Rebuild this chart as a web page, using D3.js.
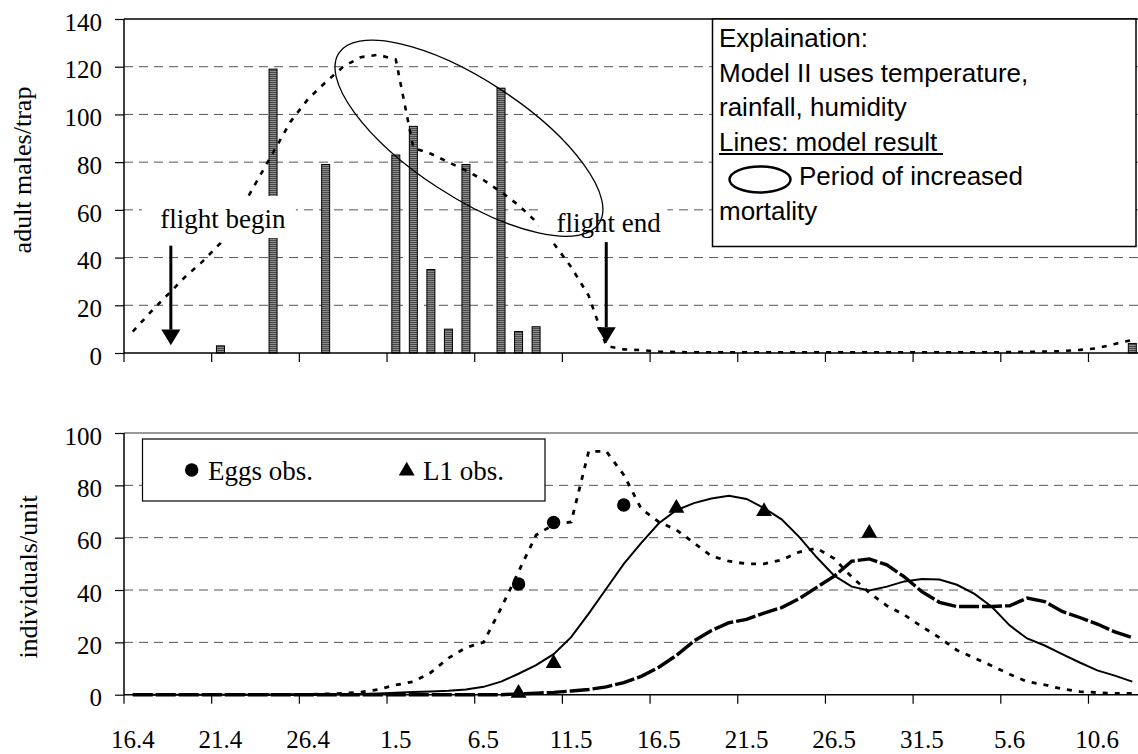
<!DOCTYPE html>
<html>
<head>
<meta charset="utf-8">
<script src="https://cdn.jsdelivr.net/npm/d3@7/dist/d3.min.js"></script>
<style>
  body { margin: 0; background: #fff; }
  svg { display: block; }
</style>
</head>
<body>
<div id="chart"></div>
<script>
const SERIF = '"Liberation Serif", "Times New Roman", serif';
const SANS = '"Liberation Sans", Arial, sans-serif';

// daily categories on the x axis (day.month)
const days = ["16.4","17.4","18.4","19.4","20.4","21.4","22.4","23.4","24.4","25.4",
  "26.4","27.4","28.4","29.4","30.4","1.5","2.5","3.5","4.5","5.5",
  "6.5","7.5","8.5","9.5","10.5","11.5","12.5","13.5","14.5","15.5",
  "16.5","17.5","18.5","19.5","20.5","21.5","22.5","23.5","24.5","25.5",
  "26.5","27.5","28.5","29.5","30.5","31.5","1.6","2.6","3.6","4.6",
  "5.6","6.6","7.6","8.6","9.6","10.6","11.6","12.6"];
const tickLabels = ["16.4","21.4","26.4","1.5","6.5","11.5","16.5","21.5","26.5","31.5","5.6","10.6"];

// top panel: trap catches (bars) and model II (dashed line)
const trapDays   = ["21.4","24.4","27.4","1.5","2.5","3.5","4.5","5.5","7.5","8.5","9.5","12.6"];
const trapCounts = [3, 119, 79, 83, 95, 35, 10, 79, 111, 9, 11, 4];
const adultModel = [9,17,24.5,32,38.5,46,58,71,84,97,
  106.5,113.5,120,124,125,123,86,83.5,80,76.5,
  72.5,67.5,62,55,46,36,24,3,1.5,1.2,
  0.6,0.4,0.3,0.3,0.3,0.3,0.3,0.3,0.3,0.3,
  0.3,0.3,0.3,0.3,0.3,0.3,0.3,0.3,0.3,0.3,
  0.4,0.5,0.6,0.8,1.3,2,3.8,5.5];

// bottom panel: model curves and observations
const eggsModel = [0,0,0,0,0,0,0,0,0,0,
  0,0.3,0.5,1,2,3.7,5,8.5,14,18,
  20,33,47,61,65,66,93,93,84,71,
  66,63,58,53,51,50,50,51.5,54.5,56,
  52,45,39,34,30.5,26,21.8,17,14,11,
  7.8,5,3.8,2.2,1.2,0.8,0.5,0.5];
const l1Model = [0,0,0,0,0,0,0,0,0,0,
  0,0.1,0.2,0.3,0.5,0.7,1,1.2,1.5,2,
  3,5,8,11.3,15.5,22,31,40.5,50,58,
  65.5,70.5,73.2,75,76,74.8,71.3,67,60.3,52.5,
  45.5,41.3,39.8,41.3,43.3,44.2,44,42,38.5,33.5,
  26.5,21.5,18.8,15.5,12.3,9.3,7.3,5];
const l2Model = [0,0,0,0,0,0,0,0,0,0,
  0,0,0,0,0,0,0,0,0,0,
  0,0,0.3,0.6,0.9,1.4,2,3,4.6,7,
  10.5,15,20.5,24.5,27.5,28.8,31.2,33.3,36.7,41,
  45.3,51,51.9,49.6,45,39.4,35.3,33.7,33.7,33.7,
  34,36.9,35.6,31.8,29.5,27,24,21.8];
const eggsObsDays = ["8.5","10.5","14.5"];
const eggsObs     = [42.3, 65.8, 72.5];
const l1ObsDays   = ["8.5","10.5","17.5","22.5","28.5"];
const l1Obs       = [0.6, 12, 71.3, 70, 61.7];

const topTicks = [0,20,40,60,80,100,120,140];
const botTicks = [0,20,40,60,80,100];

const W = 1138, H = 754;
const svg = d3.select("#chart").append("svg")
  .attr("width", W).attr("height", H);

const defs = svg.append("defs");
const pat = defs.append("pattern")
  .attr("id","hatch").attr("patternUnits","userSpaceOnUse")
  .attr("width",4).attr("height",2);
pat.append("rect").attr("width",4).attr("height",2).attr("fill","#8c8c8c");
pat.append("rect").attr("width",4).attr("height",1).attr("fill","#4a4a4a");

const x = d3.scaleBand().domain(days).range([124, 124 + 58*17.536]).padding(0);
const bw = x.bandwidth();
const xc = d => x(d) + bw/2;

const yTop = d3.scaleLinear().domain([0,140]).range([353,19]);
const yBot = d3.scaleLinear().domain([0,100]).range([694.7,433]);

function yAxis(scale, ticks) {
  return d3.axisLeft(scale).tickValues(ticks).tickSize(9).tickPadding(13);
}
function styleAxis(g) {
  g.select(".domain").remove();
  g.selectAll(".tick line").attr("stroke","#000").attr("stroke-width",1.2);
  g.selectAll(".tick text")
    .style("font-family",SERIF).style("font-size","25px").attr("fill","#000").attr("dy","0.45em");
}

// ---------- top panel ----------
const topG = svg.append("g");

topG.append("g").selectAll("line")
  .data(topTicks.filter(t => t > 0 && t < 140))
  .enter().append("line")
  .attr("x1",124).attr("x2",W).attr("y1",d => yTop(d)).attr("y2",d => yTop(d))
  .attr("stroke","#555").attr("stroke-width",1).attr("stroke-dasharray","9,6");

topG.append("line").attr("x1",124).attr("x2",W)
  .attr("y1",yTop(140)).attr("y2",yTop(140)).attr("stroke","#000").attr("stroke-width",1.5);

topG.append("g").selectAll("rect")
  .data(trapDays.map((d,i) => ({d:d, v:trapCounts[i]})))
  .enter().append("rect")
  .attr("x",d => xc(d.d) - 4).attr("width",8)
  .attr("y",d => yTop(d.v)).attr("height",d => yTop(0) - yTop(d.v))
  .attr("fill","url(#hatch)").attr("stroke","#000").attr("stroke-width",1);

topG.append("path")
  .datum(adultModel)
  .attr("fill","none").attr("stroke","#000").attr("stroke-width",2.6)
  .attr("stroke-dasharray","5,7")
  .attr("d", d3.line().x((d,i) => xc(days[i])).y(d => yTop(d)));

// axes
const gyt = topG.append("g").attr("transform","translate(124,0)").call(yAxis(yTop, topTicks));
styleAxis(gyt);
topG.append("line").attr("x1",124).attr("x2",124).attr("y1",yTop(140)).attr("y2",yTop(0))
  .attr("stroke","#000").attr("stroke-width",1.5);
topG.append("line").attr("x1",124).attr("x2",W).attr("y1",yTop(0)).attr("y2",yTop(0))
  .attr("stroke","#000").attr("stroke-width",1.5);
topG.append("g").selectAll("line").data(tickLabels).enter().append("line")
  .attr("x1",d => x(d)).attr("x2",d => x(d)).attr("y1",yTop(0)).attr("y2",yTop(0)+9)
  .attr("stroke","#000").attr("stroke-width",1.2);

topG.append("text").style("font-family",SERIF).style("font-size","26px")
  .attr("text-anchor","middle")
  .attr("transform","translate(31,170) rotate(-90)")
  .text("adult males/trap");

// explanation box
const ex = topG.append("g");
ex.append("rect").attr("x",712.5).attr("y",19).attr("width",423.5).attr("height",227.5)
  .attr("fill","#fff").attr("stroke","#000").attr("stroke-width",1.5);
const exLines = ["Explaination:","Model II uses temperature,","rainfall, humidity",
  "Lines: model result","Period of increased","mortality"];
ex.selectAll("text").data(exLines).enter().append("text")
  .style("font-family",SANS).style("font-size","26px")
  .attr("x",(d,i) => i === 4 ? 799 : 719)
  .attr("y",(d,i) => 47 + i*34.6)
  .text(d => d);
ex.append("line").attr("x1",719).attr("x2",943).attr("y1",154).attr("y2",154)
  .attr("stroke","#000").attr("stroke-width",2);
ex.append("ellipse").attr("cx",760).attr("cy",179.5).attr("rx",30.5).attr("ry",13)
  .attr("fill","none").attr("stroke","#000").attr("stroke-width",2.5);

// flight begin / end annotations
function flightNote(day, dx, label, textY, box, yFrom, yHead, yTip) {
  const ax = xc(day) + dx;
  topG.append("rect").attr("x",ax + box[0]).attr("y",box[1])
    .attr("width",box[2]).attr("height",box[3]).attr("fill","#fff");
  topG.append("text").style("font-family",SERIF).style("font-size","27px")
    .attr("text-anchor","middle").attr("x",ax + box[0] + box[4]).attr("y",textY)
    .text(label);
  return {ax, yFrom, yHead, yTip};
}
const fb = flightNote("18.4", 3, "flight begin", 228, [-29, 196, 154, 42, 81], yTop(45), yTop(9.8), yTop(3.3));
const fe = flightNote("13.5", 0, "flight end", 232, [-68, 206, 129, 36, 70.5], yTop(46.5), yTop(10.8), yTop(4.2));

// period of increased mortality
topG.append("ellipse")
  .attr("cx",0).attr("cy",0).attr("rx",155.5).attr("ry",58.2)
  .attr("transform","translate(" + (xc("5.5") + 3) + "," + yTop(90) + ") rotate(33.2)")
  .attr("fill","none").attr("stroke","#000").attr("stroke-width",1.3);

[fb, fe].forEach(a => {
  topG.append("line").attr("x1",a.ax).attr("x2",a.ax).attr("y1",a.yFrom).attr("y2",a.yHead)
    .attr("stroke","#000").attr("stroke-width",3);
  topG.append("path")
    .attr("d","M" + (a.ax-9.5) + "," + a.yHead + "L" + (a.ax+9.5) + "," + a.yHead + "L" + a.ax + "," + a.yTip + "Z")
    .attr("fill","#000");
});

// ---------- bottom panel ----------
const botG = svg.append("g");

botG.append("g").selectAll("line")
  .data(botTicks.filter(t => t > 0 && t < 100))
  .enter().append("line")
  .attr("x1",124).attr("x2",W).attr("y1",d => yBot(d)).attr("y2",d => yBot(d))
  .attr("stroke","#555").attr("stroke-width",1).attr("stroke-dasharray","9,6");
botG.append("line").attr("x1",124).attr("x2",W)
  .attr("y1",yBot(100)).attr("y2",yBot(100)).attr("stroke","#777").attr("stroke-width",1.5);

// legend
botG.append("rect").attr("x",142.5).attr("y",439).attr("width",402.5).attr("height",62)
  .attr("fill","#fff").attr("stroke","#000").attr("stroke-width",1.2);
botG.append("circle").attr("cx",191.7).attr("cy",470).attr("r",6.7).attr("fill","#000");
botG.append("text").style("font-family",SERIF).style("font-size","27px").attr("x",208).attr("y",480).text("Eggs obs.");
botG.append("path").attr("d",d3.symbol(d3.symbolTriangle, 110)()).attr("transform","translate(406.7,471)").attr("fill","#000");
botG.append("text").style("font-family",SERIF).style("font-size","27px").attr("x",423).attr("y",480).text("L1 obs.");

const lineB = d3.line().x((d,i) => xc(days[i])).y(d => yBot(d));
botG.append("path").datum(l2Model).attr("fill","none").attr("stroke","#000")
  .attr("stroke-width",3.4).attr("stroke-dasharray","20,3").attr("d",lineB);
botG.append("path").datum(l1Model).attr("fill","none").attr("stroke","#000")
  .attr("stroke-width",2).attr("d",lineB);
botG.append("path").datum(eggsModel).attr("fill","none").attr("stroke","#000")
  .attr("stroke-width",2.8).attr("stroke-dasharray","5,7").attr("d",lineB);

botG.append("g").selectAll("circle")
  .data(eggsObsDays.map((d,i) => ({d:d, v:eggsObs[i]})))
  .enter().append("circle")
  .attr("cx",d => xc(d.d)).attr("cy",d => yBot(d.v)).attr("r",6.7).attr("fill","#000");
botG.append("g").selectAll("path")
  .data(l1ObsDays.map((d,i) => ({d:d, v:l1Obs[i]})))
  .enter().append("path")
  .attr("d",d3.symbol(d3.symbolTriangle, 110)())
  .attr("transform",d => "translate(" + xc(d.d) + "," + yBot(d.v) + ")")
  .attr("fill","#000");

const gyb = botG.append("g").attr("transform","translate(124,0)").call(yAxis(yBot, botTicks));
styleAxis(gyb);
botG.append("line").attr("x1",124).attr("x2",124).attr("y1",yBot(100)).attr("y2",yBot(0))
  .attr("stroke","#000").attr("stroke-width",1.5);
botG.append("line").attr("x1",124).attr("x2",W).attr("y1",yBot(0)).attr("y2",yBot(0))
  .attr("stroke","#000").attr("stroke-width",1.5);
const xt = botG.append("g").selectAll("g").data(tickLabels).enter().append("g");
xt.append("line")
  .attr("x1",d => x(d)).attr("x2",d => x(d)).attr("y1",yBot(0)).attr("y2",yBot(0)+9)
  .attr("stroke","#000").attr("stroke-width",1.2);
xt.append("text").style("font-family",SERIF).style("font-size","25px").attr("text-anchor","middle")
  .attr("x",d => xc(d)).attr("y",748).text(d => d);

botG.append("text").style("font-family",SERIF).style("font-size","26px")
  .attr("text-anchor","middle")
  .attr("transform","translate(37,577) rotate(-90)")
  .text("individuals/unit");
</script>
</body>
</html>
